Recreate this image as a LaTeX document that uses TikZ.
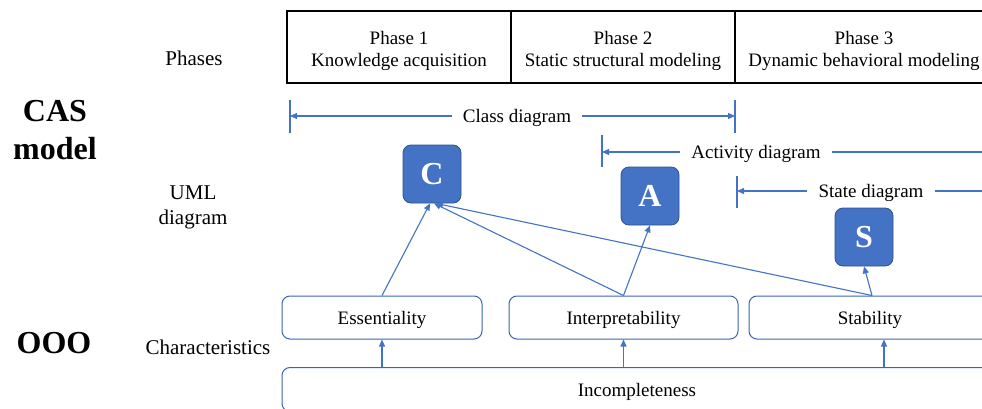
\documentclass[tikz,border=0pt]{standalone}
\usepackage{fontspec}
\setmainfont{Liberation Serif}
\usetikzlibrary{arrows.meta}
\definecolor{ublue}{HTML}{4472C4}
\definecolor{uedge}{HTML}{2F528F}
\definecolor{cedge}{HTML}{3A64B0}

\begin{document}
\begin{tikzpicture}[x=1pt,y=-1pt,
  phasecell/.style={draw=black,line width=2.4pt,minimum height=72pt,inner sep=0pt},
  phasetext/.style={align=center,inner sep=0pt,font=\fontsize{19}{22}\selectfont},
  rowlabel/.style={align=center,font=\fontsize{21}{25}\selectfont},
  biglabel/.style={align=center,font=\fontsize{32}{38}\selectfont\bfseries},
  umlbox/.style={draw=uedge,fill=ublue,line width=0.8pt,rounded corners=8pt,
    minimum width=58pt,minimum height=58pt,inner sep=0pt,text=white,
    font=\fontsize{32}{38}\selectfont\bfseries},
  charbox/.style={draw=cedge,line width=1pt,rounded corners=8pt,minimum height=43pt,
    inner sep=0pt,text depth=0pt,font=\fontsize{19}{22}\selectfont},
  link/.style={draw=ublue,line width=1.1pt,-{Triangle[length=7pt,width=6pt]}},
  tickmark/.style={draw=ublue,line width=1.1pt},
  spanlabel/.style={inner xsep=11pt,inner ysep=2pt,text depth=0pt,
    font=\fontsize{19}{22}\selectfont}
]
\useasboundingbox (0,0) rectangle (982,409);
\clip (0,0) rectangle (982,409);

% row titles
\node[biglabel] (cas) at (55,130) {CAS\\model};
\node[biglabel] (ooo) at (54,343) {OOO};
\node[rowlabel] (phases) at (194,58) {Phases};
\node[rowlabel] (uml) at (193,207) {UML\\diagram};
\node[rowlabel] (chars) at (208,347) {Characteristics};

% phase table
\node[phasecell,minimum width=224pt] (p1) at (399,47) {};
\node[phasecell,minimum width=224pt] (p2) at (623,47) {};
\node[phasecell,minimum width=258pt] (p3) at (864,47) {};
\node[phasetext] (p1t) at ([yshift=-3.5pt]p1.center) {Phase 1\\Knowledge acquisition};
\node[phasetext] (p2t) at ([yshift=-3.5pt]p2.center) {Phase 2\\Static structural modeling};
\node[phasetext] (p3t) at ([yshift=-3.5pt]p3.center) {Phase 3\\Dynamic behavioral modeling};

% spans of the UML diagrams
\coordinate (clsL) at (290,116);
\coordinate (clsR) at (735,116);
\draw[tickmark] (290,100) -- (290,133);
\draw[tickmark] (735,100) -- (735,133);
\node[spanlabel] (cls) at (517,116) {Class diagram};
\draw[link] (cls) -- (clsL);
\draw[link] (cls) -- (clsR);

\coordinate (actL) at (602,152);
\coordinate (actR) at (1010,152);
\draw[tickmark] (602,135) -- (602,167);
\node[spanlabel] (act) at (756,152) {Activity diagram};
\draw[link] (act) -- (actL);
\draw[link] (act) -- (actR);

\coordinate (stL) at (737,191);
\coordinate (stR) at (1010,191);
\draw[tickmark] (737,176) -- (737,208);
\node[spanlabel] (st) at (871,191) {State diagram};
\draw[link] (st) -- (stL);
\draw[link] (st) -- (stR);

% UML diagram boxes
\node[umlbox] (C) at (432,174) {C};
\node[umlbox] (A) at (650,196) {A};
\node[umlbox] (S) at (864,237) {S};

% characteristics
\node[charbox,minimum width=200pt] (ess) at (382,317.5) {Essentiality};
\node[charbox,minimum width=229pt] (intp) at (623.5,317.5) {Interpretability};
\node[charbox,minimum width=242pt] (stab) at (870,317.5) {Stability};
\node[charbox,minimum width=710pt,minimum height=44pt] (inc) at (637,389.5) {Incompleteness};

% incompleteness feeds each characteristic
\path ([xshift=14pt]stab.south) coordinate (stabin);
\draw[link] (inc.north -| ess) -- (ess.south);
\draw[link] (inc.north -| intp) -- (intp.south);
\draw[link] (inc.north -| stabin) -- (stabin);

% characteristics support the diagrams
\draw[link] (ess.north) -- ([xshift=-2pt]C.south);
\draw[link] (intp.north) -- ([xshift=2pt]C.south);
\draw[link] (intp.north) -- (A.south);
\draw[link] ([xshift=2pt]stab.north) -- ([xshift=4pt]C.south);
\draw[link] ([xshift=2pt]stab.north) -- (S.south);
\end{tikzpicture}
\end{document}
